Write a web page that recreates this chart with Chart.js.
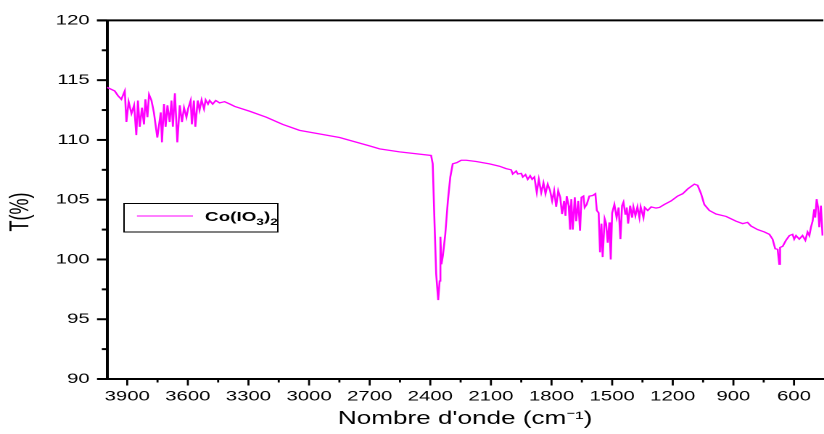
<!DOCTYPE html>
<html><head><meta charset="utf-8">
<script src="https://cdn.jsdelivr.net/npm/chart.js@4.4.1/dist/chart.umd.min.js"></script>
<style>
html,body{margin:0;padding:0;background:#fff;overflow:hidden;width:824px;height:434px}
#wrap{position:absolute;left:0;top:0;width:568px;height:434px;transform:scaleX(1.450704);transform-origin:0 0}
</style></head><body>
<div id="wrap"><canvas id="c" width="568" height="434"></canvas></div>
<script>
const wavenumber = [4000,3987,3962,3946,3929,3912,3904,3893,3879,3866,3855,3847,3838,3827,3817,3810,3800,3792,3780,3768,3751,3734,3728,3718,3710,3701,3690,3681,3674,3664,3652,3640,3629,3619,3607,3599,3586,3580,3570,3563,3551,3542,3532,3520,3512,3500,3492,3477,3462,3443,3418,3392,3368,
3294,3212,3130,3047,2849,2701,2651,2552,2396,
2388,2379,2371,2361,2354,2350,2345,2338,2326,2313,2301,2289,2269,2247,2222,2173,2107,2058,
2025,2000,1992,1975,1967,1950,1942,1929,1918,1906,
1896,1885,1873,1863,1851,1840,1830,1819,1807,1797,1787,1777,1767,1757,1748,1738,1731,1725,1715,1708,1702,1695,1685,1678,1668,1659,1652,1642,1636,1626,1613,1596,1583,1576,1567,1560,1553,1547,1537,1530,1522,1514,1507,1500,
1489,1478,1468,1459,1451,1444,1435,1428,1421,1411,1401,1395,1385,1375,1365,1359,1345,1339,1324,1307,1283,1266,1242,1208,1176,1151,1126,1110,1093,1077,1060,1044,1019,986,936,887,854,830,813,780,747,722,706,693,681,673,669,656,640,623,607,599,590,574,558,544,533,524,516,508,500,495,488,481,475,467,459];
const transmittance = [114.4,114.3,114.1,113.7,113.4,114.1,111.5,113.2,112.2,112.9,110.4,113.3,111.1,112.7,111.3,113.4,111.9,113.8,113.3,112.3,110.2,112.3,109.8,113.0,111.1,112.9,111.5,113.3,111.1,113.9,109.8,112.9,111.5,112.7,111.9,112.6,113.3,111.3,113.3,111.1,113.3,112.5,113.35,112.6,113.35,113.0,113.3,113.0,113.3,113.1,113.2,113.0,112.8,
112.4,111.9,111.3,110.8,110.2,109.5,109.25,109.0,108.7,
108.0,103.0,98.8,96.6,98.2,101.9,99.6,100.3,102.1,104.9,106.9,108.0,108.1,108.3,108.3,108.2,108.0,107.8,
107.6,107.5,107.15,107.4,107.15,107.2,106.9,107.1,106.7,107.0,
106.7,106.9,105.6,106.7,105.6,106.4,105.5,106.3,105.75,104.9,105.75,104.4,105.75,105.2,103.8,104.9,103.65,105.3,104.5,102.5,105.05,102.5,105.2,103.2,104.9,102.4,105.2,105.3,104.35,104.6,105.3,105.35,105.5,104.1,103.9,100.6,103.0,100.2,103.4,103.0,101.4,103.1,100.0,103.9,
104.6,103.5,104.35,101.7,104.5,104.8,103.8,104.35,103.0,104.5,103.5,104.4,103.65,104.4,103.5,104.4,103.5,104.35,104.1,104.4,104.3,104.35,104.6,104.9,105.3,105.5,105.9,106.1,106.3,106.2,105.5,104.6,104.1,103.8,103.6,103.2,103.0,103.1,102.8,102.5,102.3,102.1,101.7,100.9,100.85,99.6,101.0,101.1,101.6,102.0,102.1,101.7,102.0,101.7,102.0,101.6,102.3,102.0,102.7,103.2,104.2,103.5,105.05,104.35,102.7,104.5,102.0];
const xTickLabels = [3900,3600,3300,3000,2700,2400,2100,1800,1500,1200,900,600];
const xMinorTicks = [3750,3450,3150,2850,2550,2250,1950,1650,1350,1050,750];
const yTickLabels = [90,95,100,105,110,115,120];
const yMinorTicks = [92.5,97.5,102.5,107.5,112.5,117.5];
const seriesName = 'Co(IO3)2';
const xTitle = "Nombre d'onde (cm\u207B\u00B9)";
const yTitle = 'T(%)';

const FONT = '"Liberation Sans", Arial, Helvetica, sans-serif';
Chart.defaults.font.family = FONT;
Chart.defaults.color = '#000';

const points = wavenumber.map((w, i) => ({x: w, y: transmittance[i]}));

const decor = {
  id: 'decor',
  afterDraw(chart) {
    const ctx = chart.ctx, xs = chart.scales.x, ys = chart.scales.y, a = chart.chartArea;
    ctx.save();
    ctx.strokeStyle = '#000';
    const seg = (x1, y1, x2, y2) => { ctx.beginPath(); ctx.moveTo(x1, y1); ctx.lineTo(x2, y2); ctx.stroke(); };
    ctx.lineWidth = 2;
    seg(a.left - 6.9, a.top, a.right, a.top);
    yTickLabels.forEach(v => { const y = ys.getPixelForValue(v); seg(a.left - 6.9, y, a.left, y); });
    yMinorTicks.forEach(v => { const y = ys.getPixelForValue(v); seg(a.left - 3.6, y, a.left, y); });
    ctx.lineWidth = 1.4;
    xTickLabels.forEach(v => { const x = xs.getPixelForValue(v); seg(x, a.bottom, x, a.bottom + 6.5); });
    xMinorTicks.forEach(v => { const x = xs.getPixelForValue(v); seg(x, a.bottom, x, a.bottom + 3.5); });
    // y title
    ctx.fillStyle = '#000';
    ctx.font = '18px ' + FONT;
    ctx.textAlign = 'center'; ctx.textBaseline = 'middle';
    ctx.translate(14.5, 212);
    ctx.rotate(-Math.PI / 2);
    ctx.fillText(yTitle, 0, 0);
    ctx.restore();
    // legend
    ctx.save();
    ctx.strokeStyle = '#000'; ctx.lineWidth = 1;
    ctx.strokeRect(85.5, 203.5, 106, 28.5);
    ctx.strokeStyle = chart.data.datasets[0].borderColor; ctx.lineWidth = 1.1;
    seg(94.4, 216, 133, 216);
    ctx.fillStyle = '#000'; ctx.textBaseline = 'alphabetic'; ctx.textAlign = 'left';
    let x = 141.3; const base = 221;
    for (const ch of chart.data.datasets[0].label) {
      if (/[0-9]/.test(ch)) {
        ctx.font = 'bold 9.5px ' + FONT;
        ctx.fillText(ch, x, base + 4);
      } else {
        ctx.font = 'bold 13px ' + FONT;
        ctx.fillText(ch, x, base);
      }
      x += ctx.measureText(ch).width;
    }
    ctx.restore();
  }
};

new Chart(document.getElementById('c'), {
  type: 'line',
  data: { datasets: [{ label: seriesName, data: points, borderColor: '#FF00FF', borderWidth: 1.3, pointRadius: 0, tension: 0, fill: false }] },
  options: {
    responsive: false, animation: false, devicePixelRatio: 2, events: [],
    layout: { padding: { top: 20, right: 0, left: 0, bottom: 0 } },
    plugins: { legend: { display: false }, tooltip: { enabled: false }, title: { display: false } },
    scales: {
      x: {
        type: 'linear', reverse: true, min: 455, max: 4000,
        afterBuildTicks: s => { s.ticks = xTickLabels.map(v => ({ value: v })); },
        afterFit: s => { s.height = 55; },
        grid: { display: false, drawTicks: false },
        border: { display: true, color: '#000', width: 2 },
        ticks: { autoSkip: false, maxRotation: 0, padding: 9, font: { size: 14 }, color: '#000', callback: v => String(v) },
        title: { display: true, text: xTitle, font: { size: 18 }, color: '#000', padding: { top: 0, bottom: 4 } }
      },
      y: {
        type: 'linear', min: 90, max: 120,
        afterBuildTicks: s => { s.ticks = yTickLabels.map(v => ({ value: v })); },
        afterFit: s => { s.width = 73.76; },
        grid: { display: false, drawTicks: false },
        border: { display: true, color: '#000', width: 2 },
        ticks: { padding: 12, font: { size: 14 }, color: '#000', callback: v => String(v) }
      }
    }
  },
  plugins: [decor]
});
</script>
</body></html>
